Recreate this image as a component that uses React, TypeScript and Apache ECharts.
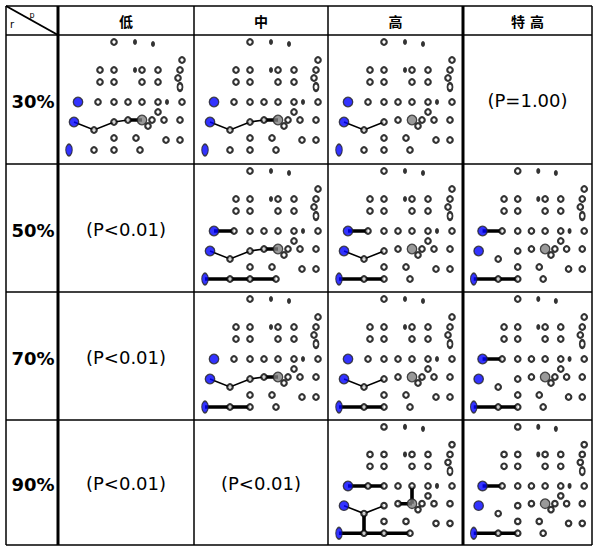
import React, { useEffect, useRef } from "react";
import * as echarts from "echarts";

// ---- data ----
const COL_LABELS = ["低", "中", "高", "特 高"];
const ROW_LABELS = ["30%", "50%", "70%", "90%"];
const P_TEXT: (string | null)[][] = [
  [null, null, null, "(P=1.00)"],
  ["(P<0.01)", null, null, null],
  ["(P<0.01)", null, null, null],
  ["(P<0.01)", "(P<0.01)", null, null],
];

// node pattern inside each cell (x right, y down)
const HOLLOW_NODES: [number, number][] = [
  [56, 7], [124, 25], [42, 35], [56, 35], [84, 35], [100, 35], [122, 35], [120, 43],
  [42, 47], [56, 47], [84, 47], [100, 47], [40, 67], [56, 67], [70, 67], [84, 67],
  [100, 67], [124, 67], [100, 77], [36, 95], [56, 87], [70, 85], [94, 85], [90, 91],
  [106, 85], [122, 85], [56, 103], [78, 103], [108, 105], [122, 105], [36, 115],
  [56, 115], [82, 115],
];
const DARK_NODES: [number, number][] = [[77, 7], [95, 9], [77, 35], [109, 67]];
const OVAL_NODES: [number, number][] = [[122, 52]];
const BLUE_NODES: [number, number][] = [[20, 67], [16, 87]];
const BLUE_OVAL_NODES: [number, number][] = [[11, 115]];
const GRAY_NODES: [number, number][] = [[84, 85]];

const NODE: Record<string, [number, number]> = {
  B1: [20, 67], B2: [16, 87], B3: [11, 115], G: [84, 85],
  a: [40, 67], b: [56, 67], c: [84, 67], d: [36, 95], e: [56, 87], f: [70, 85],
  g: [36, 115], h: [56, 115], i: [82, 115],
};

// paths per cell "row-col": thin and thick polylines
const THIN_PATHS: Record<string, string[][]> = {
  "0-0": [["B2", "d", "e", "f"]],
  "0-1": [["B2", "d", "e", "f"]],
  "0-2": [["B2", "d", "e"]],
  "1-1": [["B2", "d", "e", "f"]],
  "1-2": [["B2", "d", "e"]],
  "1-3": [],
  "2-1": [["B2", "d", "e", "f"]],
  "2-2": [["B2", "d", "e"]],
  "2-3": [],
  "3-2": [["B2", "d", "e"]],
  "3-3": [],
};
const THICK_PATHS: Record<string, string[][]> = {
  "0-0": [["f", "G"]],
  "0-1": [["f", "G"]],
  "0-2": [],
  "1-1": [["B1", "a"], ["f", "G"], ["B3", "g", "h", "i"]],
  "1-2": [["B1", "a"], ["B3", "g", "h"]],
  "1-3": [["B1", "a"], ["B3", "g", "h"]],
  "2-1": [["f", "G"], ["B3", "g", "h"]],
  "2-2": [["B3", "g", "h"]],
  "2-3": [["B1", "a"], ["B3", "g", "h"]],
  "3-2": [["B1", "a", "b"], ["d", "g"], ["B3", "g", "h", "i"], ["f", "G"], ["c", "G"]],
  "3-3": [["B1", "a"], ["B3", "g", "h"]],
};

// ---- layout ----
const COL_X = [6, 58, 194, 328, 463, 592];
const ROW_Y = [6, 35, 164, 292, 420, 545];
const THICK_COLS = [1, 4];
const CELL_W = 134;
const CELL_H = 129;

function buildOption() {
  const grid: any[] = [];
  const xAxis: any[] = [];
  const yAxis: any[] = [];
  const series: any[] = [];
  const graphic: any[] = [];

  let k = 0;
  for (let r = 0; r < ROW_LABELS.length; r++) {
    for (let c = 0; c < COL_LABELS.length; c++) {
      const left = COL_X[c + 1];
      const top = ROW_Y[r + 1];
      const w = COL_X[c + 2] - left;
      const h = ROW_Y[r + 2] - top;
      const t = P_TEXT[r][c];
      if (t) {
        graphic.push({
          type: "text",
          x: left + w / 2,
          y: top + h / 2 + 1,
          z: 10,
          style: {
            text: t,
            fill: "#000",
            font: "18px 'DejaVu Sans', sans-serif",
            textAlign: "center",
            textVerticalAlign: "middle",
          },
        });
        continue;
      }
      const key = `${r}-${c}`;
      grid.push({ left, top, width: CELL_W, height: CELL_H });
      xAxis.push({ type: "value", gridIndex: k, min: 0, max: CELL_W, show: false });
      yAxis.push({ type: "value", gridIndex: k, min: 0, max: CELL_H, inverse: true, show: false });
      const lineData: any[] = [];
      (THIN_PATHS[key] || []).forEach((p) =>
        lineData.push({ coords: p.map((id) => NODE[id]), lineStyle: { width: 1.6, color: "#000" } })
      );
      (THICK_PATHS[key] || []).forEach((p) =>
        lineData.push({ coords: p.map((id) => NODE[id]), lineStyle: { width: 3.6, color: "#000" } })
      );
      if (lineData.length) {
        series.push({
          type: "lines",
          coordinateSystem: "cartesian2d",
          xAxisIndex: k,
          yAxisIndex: k,
          polyline: true,
          silent: true,
          z: 2,
          lineStyle: { color: "#000", width: 1.6, opacity: 1 },
          data: lineData,
        });
      }
      const pts: any[] = [];
      HOLLOW_NODES.forEach((p) =>
        pts.push({ value: p, symbolSize: 5.5, itemStyle: { color: "#fff", borderColor: "#000", borderWidth: 2.2 } })
      );
      OVAL_NODES.forEach((p) =>
        pts.push({ value: p, symbolSize: [5, 7.5], itemStyle: { color: "#fff", borderColor: "#000", borderWidth: 2.2 } })
      );
      DARK_NODES.forEach((p) =>
        pts.push({ value: p, symbolSize: [4, 6], itemStyle: { color: "#000", borderWidth: 0 } })
      );
      BLUE_NODES.forEach((p) =>
        pts.push({ value: p, symbolSize: 9.5, itemStyle: { color: "#0000ff", borderColor: "#222", borderWidth: 1.3 } })
      );
      BLUE_OVAL_NODES.forEach((p) =>
        pts.push({ value: p, symbolSize: [6.5, 11.5], itemStyle: { color: "#0000ff", borderColor: "#222", borderWidth: 1.3 } })
      );
      GRAY_NODES.forEach((p) =>
        pts.push({ value: p, symbolSize: 9.5, itemStyle: { color: "#808080", borderColor: "#222", borderWidth: 1.3 } })
      );
      series.push({
        type: "scatter",
        xAxisIndex: k,
        yAxisIndex: k,
        silent: true,
        z: 3,
        data: pts,
      });
      k++;
    }
  }

  // table lines
  const x0 = COL_X[0];
  const x1 = COL_X[COL_X.length - 1];
  const y0 = ROW_Y[0];
  const y1 = ROW_Y[ROW_Y.length - 1];
  COL_X.forEach((x, i) => {
    graphic.push({
      type: "line",
      z: 5,
      shape: { x1: x, y1: y0, x2: x, y2: y1 },
      style: { stroke: "#000", lineWidth: THICK_COLS.includes(i) ? 3 : 1.5 },
    });
  });
  ROW_Y.forEach((y) => {
    graphic.push({
      type: "line",
      z: 5,
      shape: { x1: x0, y1: y, x2: x1, y2: y },
      style: { stroke: "#000", lineWidth: 1.5 },
    });
  });
  // corner diagonal
  graphic.push({
    type: "line",
    z: 5,
    shape: { x1: COL_X[0], y1: ROW_Y[0], x2: COL_X[1], y2: ROW_Y[1] },
    style: { stroke: "#000", lineWidth: 2 },
  });
  graphic.push({
    type: "text",
    x: 12,
    y: 24,
    z: 10,
    style: { text: "r", fill: "#000", font: "10px 'DejaVu Sans', sans-serif", textAlign: "center", textVerticalAlign: "middle" },
  });
  graphic.push({
    type: "text",
    x: 32,
    y: 15,
    z: 10,
    style: { text: "p", fill: "#000", font: "8px 'DejaVu Sans', sans-serif", textAlign: "center", textVerticalAlign: "middle" },
  });
  // column headers
  COL_LABELS.forEach((lab, c) => {
    graphic.push({
      type: "text",
      x: (COL_X[c + 1] + COL_X[c + 2]) / 2,
      y: (ROW_Y[0] + ROW_Y[1]) / 2 + 1,
      z: 10,
      style: {
        text: lab,
        fill: "#000",
        font: "bold 14px 'DejaVu Sans', 'Noto Sans CJK SC', sans-serif",
        textAlign: "center",
        textVerticalAlign: "middle",
      },
    });
  });
  // row headers
  ROW_LABELS.forEach((lab, r) => {
    graphic.push({
      type: "text",
      x: (COL_X[0] + COL_X[1]) / 2 + 1,
      y: (ROW_Y[r + 1] + ROW_Y[r + 2]) / 2 + 2,
      z: 10,
      style: {
        text: lab,
        fill: "#000",
        font: "bold 18px 'DejaVu Sans', sans-serif",
        textAlign: "center",
        textVerticalAlign: "middle",
      },
    });
  });

  return {
    animation: false,
    backgroundColor: "#fff",
    grid,
    xAxis,
    yAxis,
    series,
    graphic,
  };
}

export default function App() {
  const ref = useRef<HTMLDivElement>(null);
  useEffect(() => {
    if (!ref.current) return;
    const chart = echarts.init(ref.current, undefined, { renderer: "svg" });
    chart.setOption(buildOption() as any);
    return () => chart.dispose();
  }, []);
  return (
    <div
      ref={ref}
      style={{ position: "fixed", left: 0, top: 0, width: 594, height: 547, background: "#fff" }}
    />
  );
}
